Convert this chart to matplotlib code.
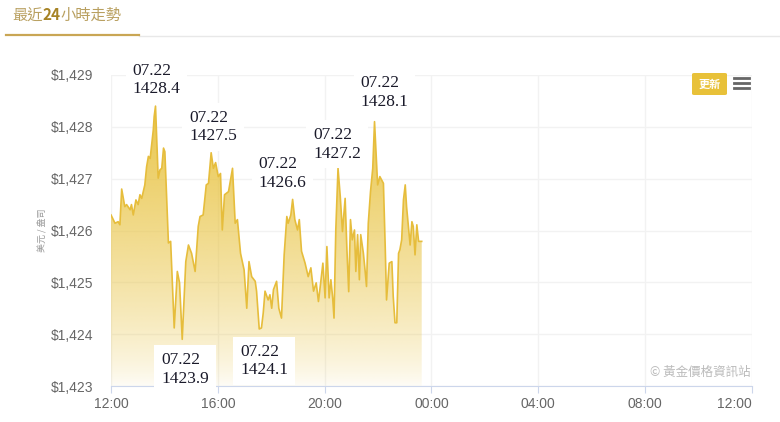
import numpy as np
import matplotlib
matplotlib.use('Agg')
import matplotlib.pyplot as plt
from matplotlib.patches import PathPatch, FancyBboxPatch
from matplotlib.lines import Line2D

plt.rcParams['font.family'] = ['Liberation Sans', 'Noto Sans CJK TC', 'DejaVu Sans']

# minutos desde las 12:00 y precio (USD / onza)
minutos = [0, 9, 16, 20, 24, 31, 35, 43, 46, 50, 56, 61, 65, 69, 76, 80, 84, 88,
           95, 97, 100, 106, 110, 114, 118, 121, 129, 134, 142, 149, 154, 160,
           168, 174, 181, 189, 196, 200, 207, 214, 219, 225, 230, 235, 241, 246,
           250, 255, 264, 273, 279, 284, 291, 299, 305, 310, 316, 324, 327, 333,
           338, 342, 346, 353, 357, 361, 365, 372, 377, 383, 389, 395, 398, 404,
           408, 413, 419, 423, 428, 436, 443, 449, 455, 461, 466, 471, 476, 481,
           485, 490, 494, 498, 501, 505, 510, 515, 520, 526, 530, 534, 538, 542,
           547, 550, 554, 558, 561, 567, 571, 574, 578, 583, 588, 592, 595, 599,
           604, 612, 616, 619, 625, 631, 634, 638, 642, 646, 649, 653, 657, 661,
           664, 668, 672, 676, 679, 683, 687, 691, 698]
precios = [1426.30, 1426.14, 1426.17, 1426.11, 1426.80, 1426.46, 1426.50, 1426.40,
           1426.50, 1426.30, 1426.59, 1426.50, 1426.69, 1426.62, 1426.88, 1427.23,
           1427.43, 1427.39, 1427.94, 1428.20, 1428.40, 1427.01, 1427.17, 1427.20,
           1427.59, 1427.52, 1425.76, 1425.79, 1424.12, 1425.21, 1424.99, 1423.90,
           1425.40, 1425.72, 1425.56, 1425.21, 1426.08, 1426.27, 1426.30, 1426.88,
           1426.91, 1427.50, 1427.20, 1427.31, 1427.04, 1427.10, 1426.01, 1426.69,
           1426.75, 1427.20, 1426.14, 1426.21, 1425.56, 1425.24, 1424.50, 1425.40,
           1425.11, 1425.02, 1424.83, 1424.10, 1424.12, 1424.41, 1424.83, 1424.66,
           1424.76, 1424.50, 1424.86, 1425.02, 1424.50, 1424.31, 1425.53, 1426.27,
           1426.14, 1426.30, 1426.60, 1426.21, 1426.01, 1426.21, 1425.60, 1425.37,
           1425.11, 1425.28, 1424.83, 1424.99, 1424.63, 1424.99, 1425.37, 1424.70,
           1425.69, 1424.70, 1425.05, 1424.70, 1424.31, 1426.01, 1427.20, 1426.66,
           1425.98, 1426.62, 1425.63, 1424.82, 1426.21, 1425.82, 1426.01, 1425.21,
           1425.92, 1425.05, 1425.92, 1425.56, 1425.21, 1424.92, 1426.14, 1426.75,
           1427.20, 1428.10, 1427.59, 1426.88, 1427.04, 1426.91, 1425.69, 1424.66,
           1425.37, 1425.40, 1424.73, 1424.22, 1424.22, 1425.56, 1425.63, 1425.82,
           1426.59, 1426.88, 1426.46, 1426.08, 1425.72, 1426.17, 1426.08, 1425.53,
           1426.11, 1425.79, 1425.79]

# etiquetas de maximos / minimos
etiqueta_min = [100, 225, 408, 510, 592, 160, 333]
etiqueta_val = [1428.4, 1427.5, 1426.6, 1427.2, 1428.1, 1423.9, 1424.1]
etiqueta_off = [(1, 26), (2, 26), (-10, 26), (-1, 24), (10, 29), (3, -30), (5, -32)]

xticks = [0, 240, 480, 720, 960, 1200, 1440]
xlabels = ['12:00', '16:00', '20:00', '00:00', '04:00', '08:00', '12:00']
yticks = [1423, 1424, 1425, 1426, 1427, 1428, 1429]
ylabels = ['$1,423', '$1,424', '$1,425', '$1,426', '$1,427', '$1,428', '$1,429']

W, H = 780, 422
fig = plt.figure(figsize=(W / 100, H / 100), dpi=100)
ax = fig.add_axes([111 / W, 1 - 386 / H, 641 / W, 311 / H])

oro = '#e6bd3c'
# relleno con degradado
relleno = ax.fill_between(minutos, precios, 1423, color='none', lw=0)
camino = relleno.get_paths()[0]
parche = PathPatch(camino, transform=ax.transData, fc='none', ec='none')
ax.add_patch(parche)
grad = np.zeros((256, 1, 4))
grad[..., 0] = 232 / 255
grad[..., 1] = 194 / 255
grad[..., 2] = 62 / 255
grad[..., 3] = (0.04 + 0.88 * np.linspace(0, 1, 256) ** 0.75)[:, None]
im = ax.imshow(grad, extent=[0, max(minutos), 1423, max(precios)], aspect='auto',
               origin='lower', zorder=1)
im.set_clip_path(parche)
ax.plot(minutos, precios, color=oro, lw=1.2, zorder=2)

ax.set_xlim(0, 1440)
ax.set_ylim(1423, 1429)
ax.set_xticks(xticks)
ax.set_xticklabels(xlabels)
ax.set_yticks(yticks)
ax.set_yticklabels(ylabels)
ax.get_xticklabels()[-1].set_ha('right')
ax.get_xticklabels()[-1].set_x(1440)
ax.tick_params(axis='x', length=5, color='#ccd6eb', labelcolor='#666666', labelsize=10, pad=3)
ax.tick_params(axis='y', length=0, labelcolor='#666666', labelsize=10, pad=13)
ax.grid(color='#f2f2f2', lw=1, zorder=0)
ax.set_axisbelow(True)
for lado in ['top', 'right', 'left']:
    ax.spines[lado].set_visible(False)
ax.spines['bottom'].set_color('#ccd6eb')

for m, v, (dx, dy) in zip(etiqueta_min, etiqueta_val, etiqueta_off):
    ax.annotate(f'07.22\n{v:.1f}', xy=(m, v), xytext=(dx, dy), textcoords='offset pixels',
                ha='center', va='center', multialignment='left', fontsize=12.5,
                family='Liberation Serif', color='#1a1a2a', linespacing=1.2, zorder=5,
                bbox=dict(boxstyle='square,pad=0.4', fc='white', ec='none'),
                annotation_clip=False)

fig.text(42 / W, 1 - 230 / H, '美元 / 盎司', rotation=90, ha='center', va='center',
         fontsize=6.5, color='#999999', family=['Noto Sans CJK TC', 'DejaVu Sans'])

# titulo en tres partes ("24" en negrita)
cjk = ['Noto Sans CJK TC', 'DejaVu Sans']
renderer = fig.canvas.get_renderer()
x0 = 12
for trozo, col, peso in [('最近', '#b9a060', 'normal'), ('24', '#a68325', 'bold'),
                         ('小時走勢', '#b9a060', 'normal')]:
    t = fig.text(x0 / W, 1 - 15 / H, trozo, ha='left', va='center', fontsize=11,
                 color=col, fontweight=peso, family=cjk)
    x0 += t.get_window_extent(renderer).width
fig.add_artist(Line2D([139 / W, 1], [1 - 36 / H] * 2, color='#e8e8e8', lw=1))
fig.add_artist(Line2D([6 / W, 139 / W], [1 - 34.5 / H] * 2, color='#c9a654', lw=1.6))

# boton y menu
fig.add_artist(FancyBboxPatch((692 / W, 1 - 95 / H), 35 / W, 22 / H,
                              boxstyle='round,pad=0,rounding_size=0.003',
                              fc='#e8c139', ec='none', transform=fig.transFigure))
fig.text(709.5 / W, 1 - 84 / H, '更新', ha='center', va='center', fontsize=8,
         color='white', fontweight='bold', family=cjk)
for yy in [77.5, 82.5, 87.5]:
    fig.add_artist(Line2D([734 / W, 749 / W], [1 - yy / H] * 2, color='#666666', lw=2))

fig.text(751 / W, 1 - 372 / H, '© 黃金價格資訊站', ha='right', va='center', fontsize=9,
         color='#bbbbbb', family=cjk)

fig.savefig('out.png', dpi=100)
